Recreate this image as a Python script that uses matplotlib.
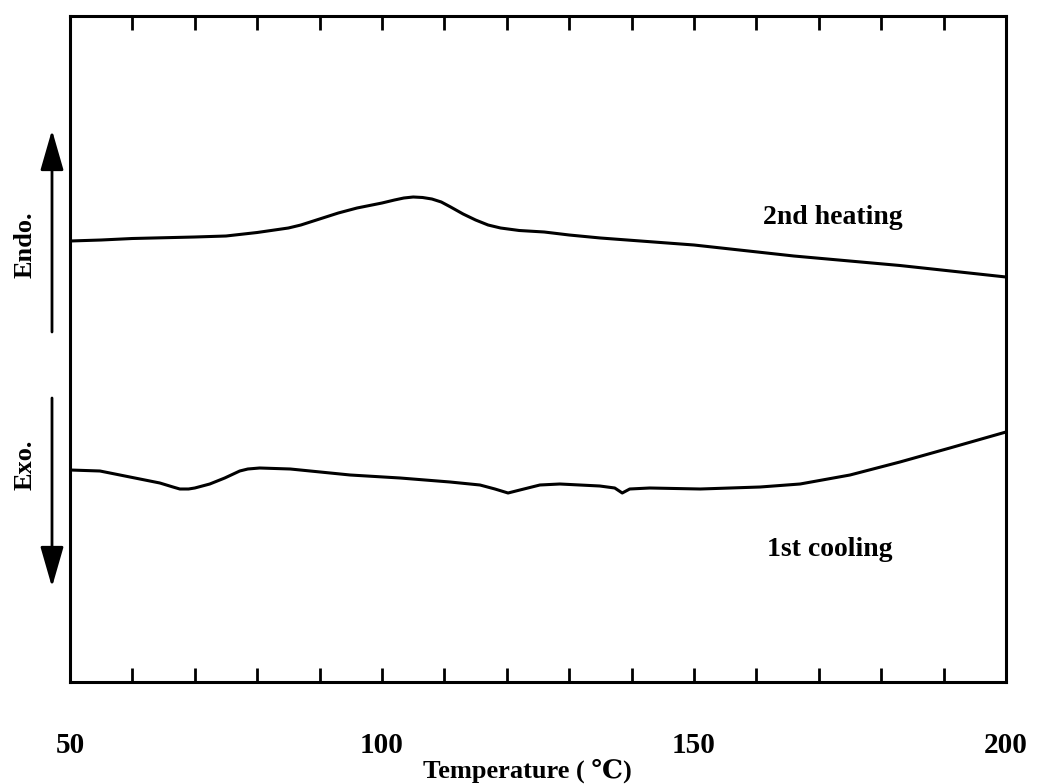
import matplotlib
matplotlib.use("Agg")
import matplotlib.pyplot as plt
from matplotlib.ticker import MultipleLocator, FuncFormatter

# ---- data (heat flow in arbitrary units) ----
heat_T = [50, 55, 60, 70, 75, 80, 85, 87, 90, 93, 96, 100, 102, 103.5, 105, 106.5,
          108, 109.5, 111, 113, 115, 117, 119, 122, 126, 130, 135, 150, 166, 183, 200]
heat_px = [241, 240, 238.5, 237, 236, 232.5, 228, 225, 219, 213, 208, 203, 200,
           198, 197, 197.5, 199, 202, 207, 214, 220, 225, 228, 230.5, 232, 235,
           238, 245, 256, 265.5, 277]
cool_T = [50, 54.8, 59.6, 64.4, 66.5, 67.6, 69, 70, 72.4, 74.8, 77.2, 78.5, 80.4,
          85.3, 86.9, 94.9, 102.9, 110.9, 115.7, 118.1, 120.2, 122.1, 125.3, 128.5,
          134.9, 137.3, 138.5, 139.7, 142.9, 151, 160.6, 167, 175, 183, 191, 200]
cool_px = [470, 471, 477, 483, 487, 489, 489, 488, 484, 478, 471, 469, 468, 469,
           470, 475, 478, 482, 485, 489, 493, 490, 485, 484, 486, 488, 493, 489,
           488, 489, 487, 484, 475, 462, 448, 432]
heating = [(682 - p) / 10 for p in heat_px]
cooling = [(682 - p) / 10 for p in cool_px]
label_ticks = [50, 100, 150, 200]

serif = ['Liberation Serif', 'DejaVu Serif']
plt.rcParams['font.family'] = serif
plt.rcParams['font.weight'] = 'bold'

fig = plt.figure(figsize=(10.37, 7.84), dpi=100)
ax = fig.add_axes([70/1037, 1 - 682/784, (1006-70)/1037, (682-16)/784])

ax.plot(heat_T, heating, color='black', lw=2.2, solid_joinstyle='round')
ax.plot(cool_T, cooling, color='black', lw=2.2, solid_joinstyle='round')

ax.set_xlim(50, 200)
ax.set_ylim(0, 66.6)
for s in ax.spines.values():
    s.set_linewidth(2.2)

ax.xaxis.set_major_locator(MultipleLocator(10))
ax.xaxis.set_major_formatter(FuncFormatter(
    lambda v, p: f"{int(round(v))}" if int(round(v)) in label_ticks else ""))
ax.tick_params(axis='x', which='major', direction='in', length=10, width=2,
               top=True, bottom=True, labelsize=21, pad=36)
ax.set_yticks([])
for lab in ax.get_xticklabels():
    lab.set_fontweight('bold')

fig.text(527/1037, 1 - 771/784, "Temperature ( \u2103)", fontsize=19,
         fontweight='bold', ha='center', va='center')

ax.text(161, (682 - 217) / 10, "2nd heating", fontsize=20, fontweight='bold',
        ha='left', va='center')
ax.text(161.7, (682 - 550) / 10, "1st cooling", fontsize=20, fontweight='bold',
        ha='left', va='center')

# Endo / Exo arrows outside the axes
ax_x = 52 / 1037
ax.annotate("", xy=(ax_x, 1 - 130/784), xytext=(ax_x, 1 - 332/784),
            xycoords='figure fraction', textcoords='figure fraction',
            arrowprops=dict(arrowstyle='-|>,head_length=1.25,head_width=0.36',
                            lw=2, color='black', mutation_scale=20,
                            shrinkA=0, shrinkB=0))
ax.annotate("", xy=(ax_x, 1 - 587/784), xytext=(ax_x, 1 - 398/784),
            xycoords='figure fraction', textcoords='figure fraction',
            arrowprops=dict(arrowstyle='-|>,head_length=1.25,head_width=0.36',
                            lw=2, color='black', mutation_scale=20,
                            shrinkA=0, shrinkB=0))
fig.text(25/1037, 1 - 245/784, "Endo.", rotation=90, fontsize=19,
         fontweight='bold', ha='center', va='center')
fig.text(25/1037, 1 - 465/784, "Exo.", rotation=90, fontsize=19,
         fontweight='bold', ha='center', va='center')

fig.savefig("out.png", dpi=100)
